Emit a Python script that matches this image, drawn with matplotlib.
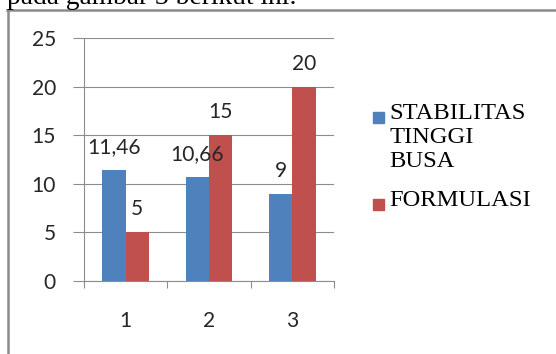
import matplotlib
matplotlib.use("Agg")
import matplotlib.pyplot as plt
from matplotlib.patches import Rectangle
from matplotlib.lines import Line2D
import numpy as np

# Chart data
categories = ["1", "2", "3"]
series_names = ["STABILITAS\nTINGGI\nBUSA", "FORMULASI"]
stabilitas = [11.46, 10.66, 9]
formulasi = [5, 15, 20]
value_labels = [["11,46", "10,66", "9"], ["5", "15", "20"]]
y_ticks = [0, 5, 10, 15, 20, 25]
colors = ["#4F81BD", "#C0504D"]

W, H, DPI = 556, 354, 100
fig = plt.figure(figsize=(W / DPI, H / DPI), dpi=DPI)
fig.patch.set_facecolor("white")

def px(v):
    # pixel size -> points
    return v * 72 / DPI

# Document text above the chart frame (partly cut off at the top)
fig.text(7 / W, 1 - 4 / H, "pada gambar 3 berikut ini:", family="Liberation Serif",
         fontsize=px(27.5), va="baseline", ha="left", color="black")

# Chart frame (left and top edges)
fig.add_artist(Line2D([8 / W, 8 / W], [0, 1 - 10 / H], transform=fig.transFigure,
                      color="#8a8a8a", lw=px(2.5)))
fig.add_artist(Line2D([7 / W, 1], [1 - 10 / H, 1 - 10 / H], transform=fig.transFigure,
                      color="#8a8a8a", lw=px(2.5)))

# Plot area
left, right, bottom_px, top_px = 84, 334, 281, 38
ax = fig.add_axes([left / W, 1 - bottom_px / H, (right - left) / W, (bottom_px - top_px) / H])
ax.set_facecolor("none")

x = np.arange(1, len(categories) + 1)
bw = 0.28
b1 = ax.bar(x - bw / 2, stabilitas, bw, color=colors[0], zorder=3)
b2 = ax.bar(x + bw / 2, formulasi, bw, color=colors[1], zorder=3)

label_font = dict(family="Lato", fontsize=px(21), color="#262626")
ax.bar_label(b1, labels=value_labels[0], padding=px(13), **label_font)
ax.bar_label(b2, labels=value_labels[1], padding=px(13), **label_font)

ax.set_xlim(0.5, len(categories) + 0.5)
ax.set_ylim(y_ticks[0], y_ticks[-1])
ax.set_yticks(y_ticks)
ax.set_yticklabels([str(t) for t in y_ticks], **label_font)
ax.set_xticks(x)
ax.set_xticklabels(categories, **label_font)
ax.set_xticks(np.arange(0.5, len(categories) + 1, 1.0), minor=True)

grid_c = "#8c8c8c"
ax.yaxis.grid(True, color=grid_c, lw=px(1.1), zorder=0)
ax.tick_params(axis="y", which="major", length=8, width=px(1.1), color=grid_c,
               pad=px(17), direction="out")
ax.tick_params(axis="x", which="major", length=0, pad=px(30))
ax.tick_params(axis="x", which="minor", length=5, width=px(1.1), color=grid_c,
               direction="out")

for s in ["top", "right"]:
    ax.spines[s].set_visible(False)
for s in ["left", "bottom"]:
    ax.spines[s].set_color(grid_c)
    ax.spines[s].set_linewidth(px(1.1))

# Legend
legend_font = dict(family="Liberation Serif", fontsize=px(24.5), color="black")
entries = [(series_names[0], 119), (series_names[1], 206)]
for (name, base_y), col in zip(entries, colors):
    fig.add_artist(Rectangle((373 / W, 1 - (base_y + 4) / H), 11 / W, 11 / H,
                             transform=fig.transFigure, color=col))
    fig.text(389 / W, 1 - base_y / H, name.split("\n")[0], va="baseline", ha="left",
             **legend_font)
    for i, extra in enumerate(name.split("\n")[1:], start=1):
        fig.text(389 / W, 1 - (base_y + 24 * i) / H, extra, va="baseline", ha="left",
                 **legend_font)

fig.savefig("out.png", dpi=DPI, facecolor="white")
